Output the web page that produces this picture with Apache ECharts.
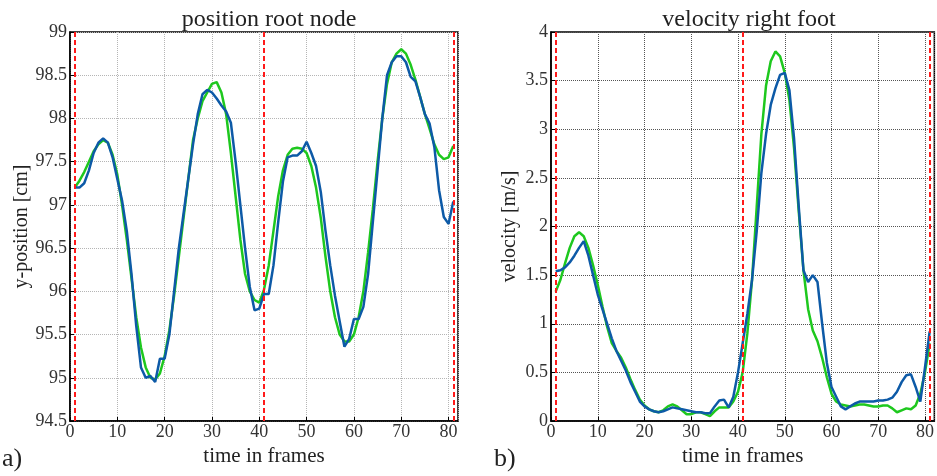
<!DOCTYPE html>
<html>
<head>
<meta charset="utf-8">
<script src="https://cdn.jsdelivr.net/npm/echarts@6/dist/echarts.min.js"></script>
<style>
  html, body { margin: 0; padding: 0; background: #fff; }
  #chart { width: 937px; height: 476px; }
</style>
</head>
<body>
<div id="chart"></div>
<script>
// frames 1..81
const frames = [];
for (let i = 1; i <= 81; i++) frames.push(i);

// a) position root node (cm)
const posGreen = [
  97.20, 97.28, 97.38, 97.50, 97.62, 97.70, 97.75, 97.72, 97.58, 97.35,
  97.00, 96.60, 96.15, 95.70, 95.35, 95.12, 95.00, 94.98, 95.05, 95.25,
  95.55, 95.95, 96.40, 96.85, 97.30, 97.75, 98.00, 98.20, 98.30, 98.40,
  98.42, 98.30, 98.05, 97.60, 97.10, 96.60, 96.20, 96.00, 95.90, 95.87,
  96.02, 96.30, 96.70, 97.10, 97.40, 97.58, 97.65, 97.66, 97.65, 97.60,
  97.45, 97.20, 96.85, 96.40, 96.00, 95.70, 95.50, 95.42, 95.42, 95.50,
  95.70, 96.00, 96.45, 96.95, 97.50, 98.00, 98.40, 98.65, 98.75, 98.80,
  98.75, 98.62, 98.45, 98.25, 98.05, 97.88, 97.70, 97.58, 97.53, 97.55,
  97.68
];
const posBlue = [
  97.20, 97.20, 97.25, 97.40, 97.60, 97.72, 97.77, 97.72, 97.55, 97.30,
  97.05, 96.70, 96.20, 95.60, 95.12, 95.00, 95.02, 94.95, 95.22, 95.22,
  95.50, 96.00, 96.50, 96.90, 97.30, 97.70, 98.05, 98.28, 98.33, 98.30,
  98.23, 98.15, 98.08, 97.95, 97.50, 97.00, 96.50, 96.05, 95.78, 95.80,
  95.97, 95.97, 96.30, 96.80, 97.27, 97.55, 97.57, 97.57, 97.62, 97.73,
  97.60, 97.45, 97.15, 96.70, 96.30, 95.95, 95.65, 95.36, 95.45, 95.68,
  95.68, 95.82, 96.20, 96.80, 97.40, 98.00, 98.50, 98.65, 98.72, 98.72,
  98.65, 98.48, 98.43, 98.25, 98.05, 97.94, 97.67, 97.17, 96.86, 96.78,
  97.04
];

// b) velocity right foot (m/s)
const velGreen = [
  1.33, 1.45, 1.62, 1.78, 1.90, 1.94, 1.90, 1.78, 1.60, 1.40,
  1.18, 0.97, 0.80, 0.72, 0.65, 0.55, 0.43, 0.32, 0.22, 0.16,
  0.12, 0.10, 0.09, 0.11, 0.15, 0.17, 0.15, 0.11, 0.07, 0.07,
  0.09, 0.09, 0.07, 0.05, 0.10, 0.14, 0.14, 0.14, 0.20, 0.30,
  0.50, 0.90, 1.45, 2.20, 2.95, 3.45, 3.70, 3.80, 3.75, 3.58,
  3.30, 2.80, 2.15, 1.55, 1.15, 0.93, 0.82, 0.65, 0.45, 0.28,
  0.20, 0.17, 0.16, 0.15, 0.16, 0.17, 0.17, 0.16, 0.15, 0.15,
  0.16, 0.16, 0.13, 0.09, 0.11, 0.13, 0.12, 0.16, 0.28, 0.50,
  0.80
];
const velBlue = [
  1.54, 1.55, 1.58, 1.63, 1.70, 1.78, 1.85, 1.70, 1.50, 1.30,
  1.15, 1.00, 0.85, 0.72, 0.62, 0.52, 0.40, 0.30, 0.20, 0.15,
  0.12, 0.10, 0.09, 0.10, 0.12, 0.14, 0.13, 0.12, 0.11, 0.10,
  0.09, 0.09, 0.08, 0.08, 0.15, 0.21, 0.22, 0.14, 0.25, 0.50,
  0.80, 1.10, 1.45, 1.95, 2.55, 2.95, 3.25, 3.42, 3.56, 3.58,
  3.40, 2.90, 2.20, 1.55, 1.43, 1.50, 1.43, 1.00, 0.60, 0.35,
  0.25, 0.15, 0.12, 0.15, 0.18, 0.20, 0.20, 0.20, 0.20, 0.21,
  0.21, 0.22, 0.24, 0.30, 0.40, 0.47, 0.48, 0.35, 0.20, 0.55,
  0.92
];

// red dashed phase markers
const phaseFrames = [1, 41, 81];

const GREEN = "#1ec81e";
const BLUE = "#0d5aa7";
const FONT = "Liberation Serif";

function pairs(ys) {
  return frames.map((f, i) => [f, ys[i]]);
}

function xAxisFor(gridIndex) {
  return {
    type: "value",
    gridIndex: gridIndex,
    min: 0,
    max: 82,
    interval: 10,
    name: "time in frames",
    nameLocation: "middle",
    nameGap: 18,
    nameTextStyle: { fontFamily: FONT, fontSize: 21, color: "#222" },
    axisLine: { lineStyle: { color: "#000", width: 1.5 } },
    axisTick: { inside: true, length: 4, lineStyle: { color: "#000" } },
    axisLabel: { fontFamily: FONT, fontSize: 18, color: "#333", margin: 2, showMaxLabel: false },
    splitLine: { show: true, lineStyle: { type: "dotted", color: gridIndex === 0 ? "#b5b5b5" : "#555" } },
  };
}

function yAxisFor(gridIndex, min, max, name, gap) {
  return {
    type: "value",
    gridIndex: gridIndex,
    min: min,
    max: max,
    interval: 0.5,
    name: name,
    nameLocation: "middle",
    nameRotate: 90,
    nameGap: gap,
    nameTextStyle: { fontFamily: FONT, fontSize: 20, color: "#222" },
    axisLine: { show: true, lineStyle: { color: "#000", width: 1.5 } },
    axisTick: { show: true, inside: true, length: 4, lineStyle: { color: "#000" } },
    axisLabel: { fontFamily: FONT, fontSize: 18, color: "#333", margin: 3 },
    splitLine: { show: true, lineStyle: { type: "dotted", color: gridIndex === 0 ? "#b5b5b5" : "#555" } },
  };
}

function lineSeries(idx, ys, color, withMarks) {
  const s = {
    type: "line",
    xAxisIndex: idx,
    yAxisIndex: idx,
    data: pairs(ys),
    showSymbol: false,
    lineStyle: { color: color, width: 2.5 },
    itemStyle: { color: color },
    animation: false,
    z: color === BLUE ? 3 : 2,
  };
  if (withMarks) {
    s.markLine = {
      silent: true,
      symbol: "none",
      label: { show: false },
      lineStyle: { color: "#ff1a1a", type: [5, 3], width: 2 },
      data: phaseFrames.map((f) => ({ xAxis: f })),
    };
  }
  return s;
}

const chart = echarts.init(document.getElementById("chart"));
chart.setOption({
  backgroundColor: "#fff",
  animation: false,
  title: [
    { text: "position root node", left: 264, top: 3, textAlign: "center",
      textStyle: { fontFamily: FONT, fontSize: 24, fontWeight: "normal", color: "#222" } },
    { text: "velocity right foot", left: 744, top: 3, textAlign: "center",
      textStyle: { fontFamily: FONT, fontSize: 24, fontWeight: "normal", color: "#222" } },
  ],
  graphic: [
    { type: "text", left: 2, top: 446, style: { text: "a)", font: "26px Liberation Serif", fill: "#222" } },
    { type: "text", left: 494, top: 446, style: { text: "b)", font: "26px Liberation Serif", fill: "#222" } },
  ],
  grid: [
    { left: 70, right: 479, top: 32, bottom: 55, show: true, borderColor: "#000", borderWidth: 1.5 },
    { left: 551, right: 2, top: 32, bottom: 55, show: true, borderColor: "#000", borderWidth: 1.5 },
  ],
  xAxis: [xAxisFor(0), xAxisFor(1)],
  yAxis: [
    yAxisFor(0, 94.5, 99, "y-position [cm]", 37),
    yAxisFor(1, 0, 4, "velocity [m/s]", 31),
  ],
  series: [
    lineSeries(0, posGreen, GREEN, true),
    lineSeries(0, posBlue, BLUE, false),
    lineSeries(1, velGreen, GREEN, true),
    lineSeries(1, velBlue, BLUE, false),
  ],
});
</script>
</body>
</html>
